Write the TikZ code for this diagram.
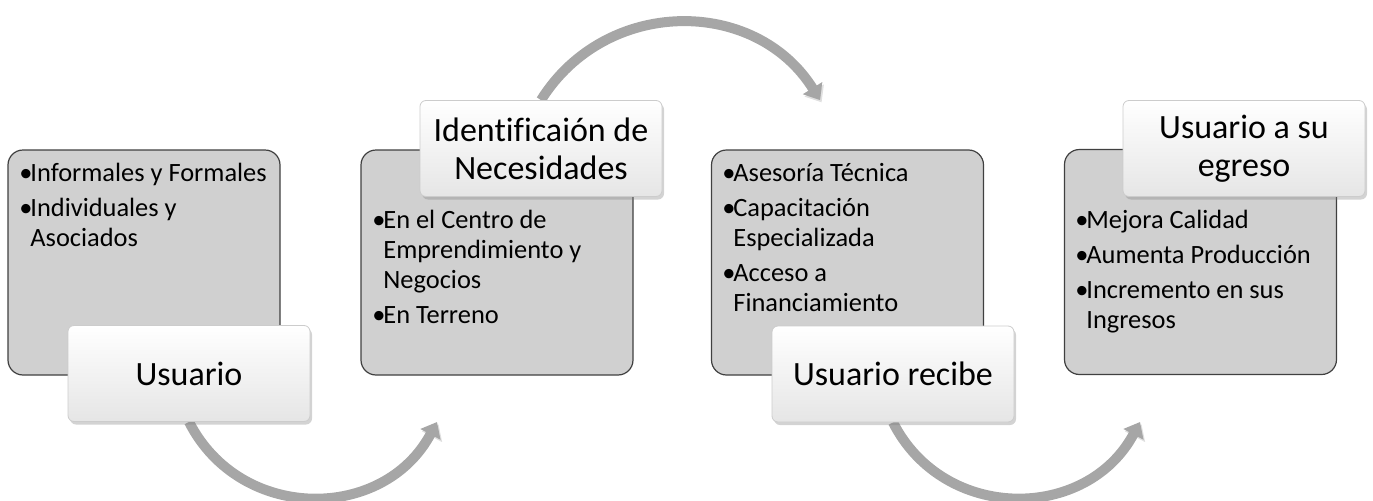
\documentclass[tikz,border=0pt]{standalone}
\usepackage{fontspec}
\setmainfont{Carlito}[Ligatures=NoCommon]
\usetikzlibrary{arrows.meta,shadows,backgrounds}
\definecolor{boxgray}{RGB}{208,208,208}
\definecolor{arrowgray}{RGB}{166,166,166}
\newcommand{\bul}{\makebox[5.5pt][l]{\textbullet}}
\newcommand{\ind}{\hspace*{5.5pt}}
\tikzset{
  box/.style={draw=black!75, fill=boxgray, line width=0.6pt, rounded corners=7.5pt,
    minimum width=136pt, minimum height=112.5pt},
  tag/.style={draw=black!20, rounded corners=3pt, top color=white, bottom color=black!10,
    minimum width=121pt, minimum height=48pt, align=center,
    font=\fontsize{17}{19}\selectfont,
    drop shadow={opacity=0.35, shadow xshift=1pt, shadow yshift=-1.5pt}},
  items/.style={anchor=north west, inner sep=0pt, align=left, font=\fontsize{13.2}{15}\selectfont},
  flow/.style={draw=arrowgray, line width=5pt, -{Triangle[width=11pt,length=7pt]},
    preaction={draw=black, opacity=0.12, transform canvas={xshift=0.8pt,yshift=-1.2pt}}}
}
\begin{document}
\begin{tikzpicture}[x=0.5pt,y=0.5pt]
\useasboundingbox (0,0) rectangle (1373,500);
\node[box] (b1) at (144,237.5) {};
\node[box] (b2) at (497,237.5) {};
\node[box] (b3) at (847.5,237.5) {};
\node[box] (b4) at (1200.5,238) {};

\node[items] (t1) at (19,337.5) {\bul Informales y Formales\\[2.5pt] \bul Individuales y\\ \ind Asociados};
\node[items] (t2) at (372,290.5) {\bul En el Centro de\\ \ind Emprendimiento y\\ \ind Negocios\\[2.5pt] \bul En Terreno};
\node[items] (t3) at (722,337.5) {\bul Asesoría Técnica\\[2.5pt] \bul Capacitación\\ \ind Especializada\\[2.5pt] \bul Acceso a\\ \ind Financiamiento};
\node[items] (t4) at (1075,290.5) {\bul Mejora Calidad\\[2.5pt] \bul Aumenta Producción\\[2.5pt] \bul Incremento en sus\\ \ind Ingresos};

\node[tag] (l1) at (189,126.5) {Usuario};
\node[tag] (l2) at (541,351.5) {Identificaión de\\Necesidades};
\node[tag] (l3) at (893,126) {Usuario recibe};
\node[tag] (l4) at (1244,351.5) {Usuario a su\\egreso};

\coordinate (a1) at (437,78);
\coordinate (a2) at (820,400);
\coordinate (a3) at (1140,78);
\begin{scope}[on background layer]
\draw[flow] (l1.south) to[out=-63,in=242,looseness=1.17] (a1);
\draw[flow] (l2.north) to[out=58,in=122,looseness=1.12] (a2);
\draw[flow] (l3.south) to[out=-63,in=242,looseness=1.17] (a3);
\end{scope}
\end{tikzpicture}
\end{document}
